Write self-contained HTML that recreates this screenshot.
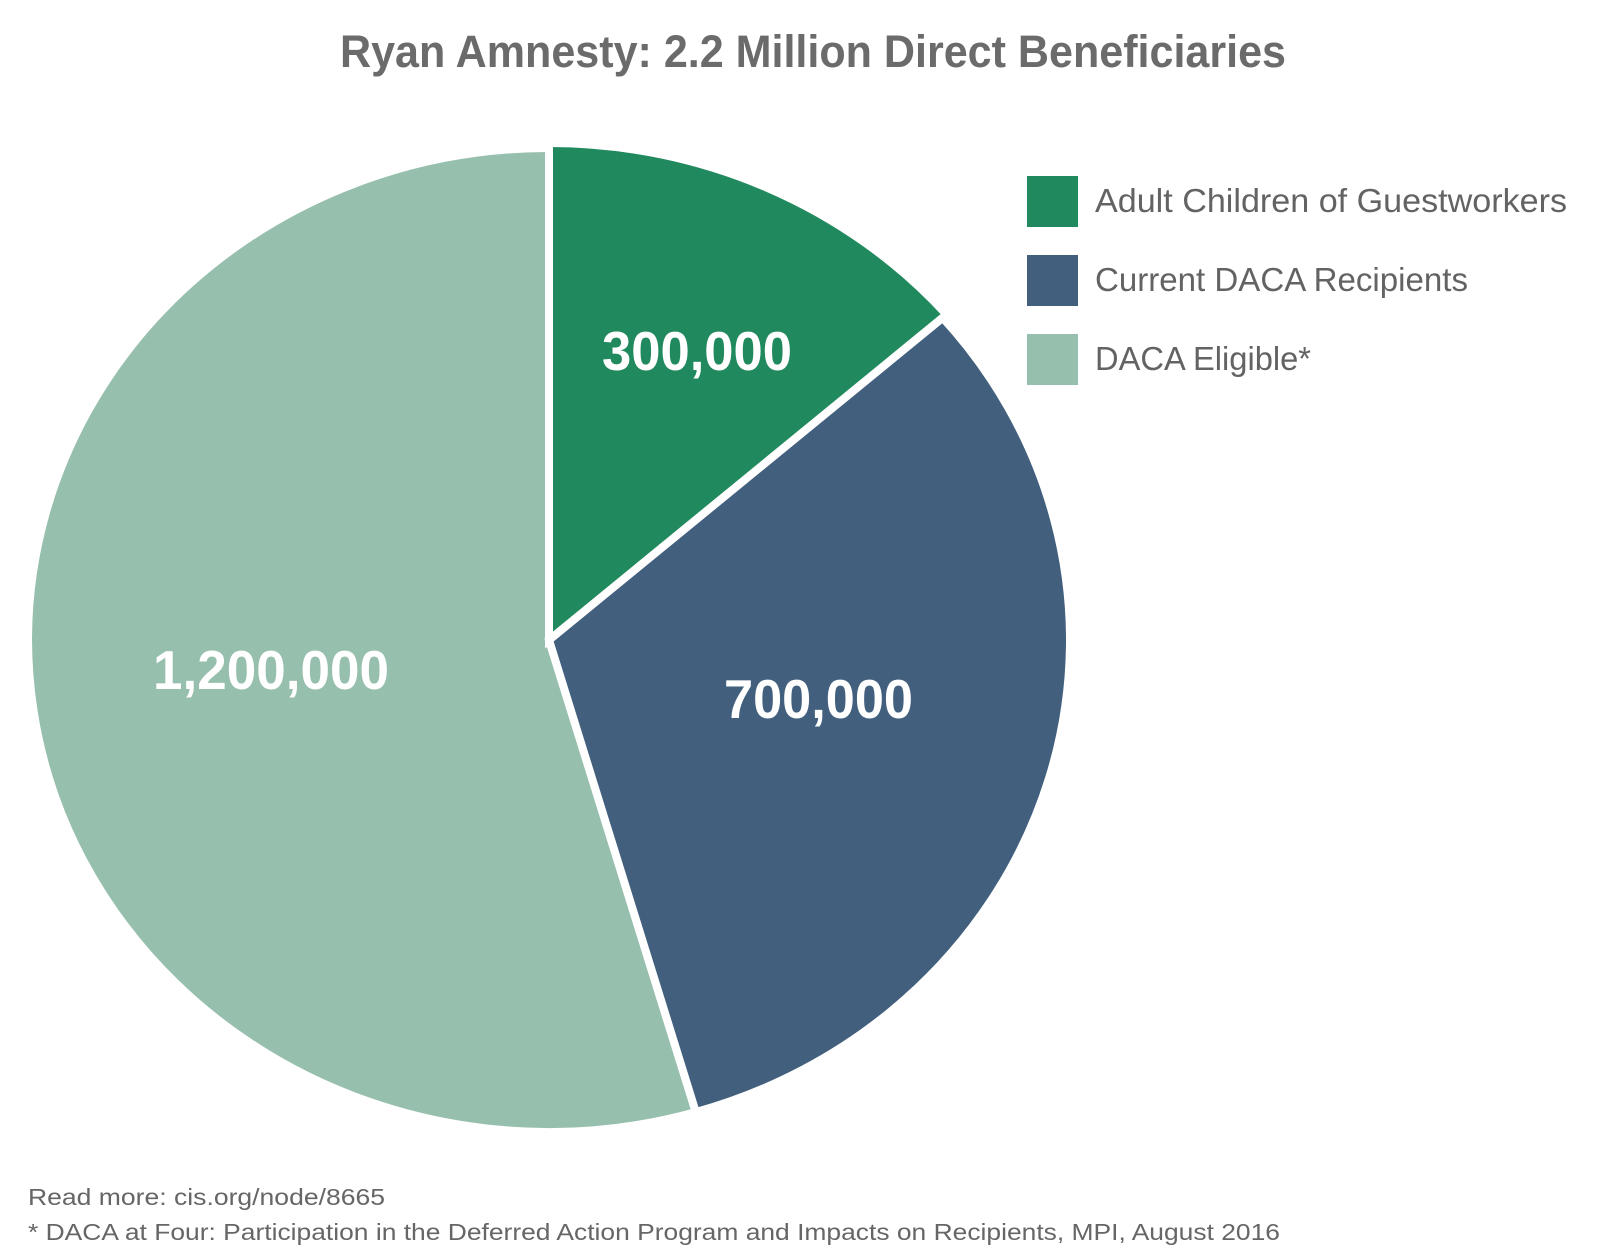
<!DOCTYPE html>
<html>
<head>
<meta charset="utf-8">
<style>
  html, body { margin: 0; padding: 0; background: #ffffff; }
  svg { display: block; }
  text { font-family: "Liberation Sans", "DejaVu Sans", sans-serif; }
</style>
</head>
<body>
<svg width="1600" height="1255" viewBox="0 0 1600 1255" xmlns="http://www.w3.org/2000/svg">
  <rect x="0" y="0" width="1600" height="1255" fill="#ffffff"/>

  <!-- Title -->
  <text x="340" y="67" font-size="45" font-weight="bold" fill="#6b6b6b" textLength="946" lengthAdjust="spacingAndGlyphs">Ryan Amnesty: 2.2 Million Direct Beneficiaries</text>

  <!-- Pie slices -->
  <g stroke="#ffffff" stroke-width="8" stroke-linejoin="miter">
    <path d="M549,640 L695.8,1112.1 A521,492 0 1 1 549,148 Z" fill="#97bfad"/>
    <path d="M549,640 L942.7,317.8 A521,492 0 0 1 695.8,1112.1 Z" fill="#425f7e"/>
    <path d="M549,640 L549,143 A526,497 0 0 1 946.5,314.5 Z" fill="#21895e"/>
  </g>

  <!-- Data labels -->
  <text x="602" y="370" font-size="55" font-weight="bold" fill="#ffffff" textLength="190" lengthAdjust="spacingAndGlyphs">300,000</text>
  <text x="153" y="689" font-size="55" font-weight="bold" fill="#ffffff" textLength="236" lengthAdjust="spacingAndGlyphs">1,200,000</text>
  <text x="724" y="718" font-size="55" font-weight="bold" fill="#ffffff" textLength="189" lengthAdjust="spacingAndGlyphs">700,000</text>

  <!-- Legend -->
  <rect x="1027" y="176" width="51" height="51" fill="#21895e"/>
  <rect x="1027" y="255" width="51" height="51" fill="#425f7e"/>
  <rect x="1027" y="334" width="51" height="51" fill="#97bfad"/>
  <text x="1095" y="212" font-size="33" fill="#636363" textLength="472" lengthAdjust="spacingAndGlyphs">Adult Children of Guestworkers</text>
  <text x="1095" y="291" font-size="33" fill="#636363" textLength="373" lengthAdjust="spacingAndGlyphs">Current DACA Recipients</text>
  <text x="1095" y="370" font-size="33" fill="#636363" textLength="216" lengthAdjust="spacingAndGlyphs">DACA Eligible*</text>

  <!-- Footer -->
  <text x="28" y="1205" font-size="23" fill="#666666" textLength="357" lengthAdjust="spacingAndGlyphs">Read more: cis.org/node/8665</text>
  <text x="28" y="1240" font-size="23" fill="#666666" textLength="1252" lengthAdjust="spacingAndGlyphs">* DACA at Four: Participation in the Deferred Action Program and Impacts on Recipients, MPI, August 2016</text>
</svg>
</body>
</html>
